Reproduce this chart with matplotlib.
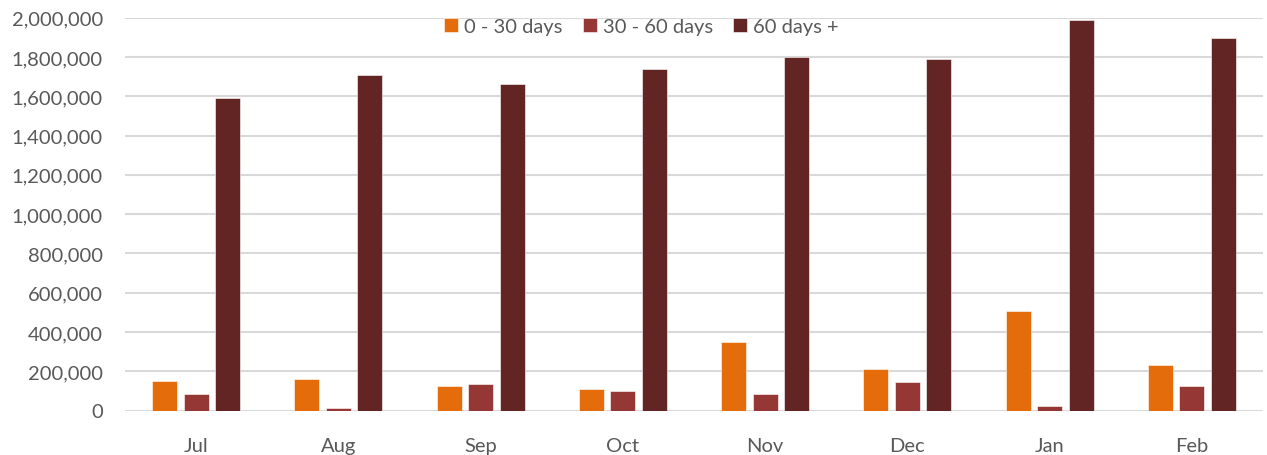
import numpy as np
import matplotlib
matplotlib.use("Agg")
import matplotlib.pyplot as plt
from matplotlib.ticker import FuncFormatter

# Data
months = ["Jul", "Aug", "Sep", "Oct", "Nov", "Dec", "Jan", "Feb"]
days_0_30 = [151000, 161000, 126000, 107000, 351000, 209000, 507000, 233000]
days_30_60 = [86000, 15000, 137000, 100000, 86000, 143000, 25000, 127000]
days_60_plus = [1590000, 1710000, 1660000, 1739000, 1800000, 1789000, 1987000, 1899000]

series = [
    ("0 - 30 days", days_0_30, "#E46C0A"),
    ("30 - 60 days", days_30_60, "#953735"),
    ("60 days +", days_60_plus, "#632523"),
]

plt.rcParams["font.family"] = ["Lato", "DejaVu Sans"]
text_color = "#595959"

fig = plt.figure(figsize=(12.67, 4.56), dpi=100)
ax = fig.add_axes([125 / 1267, 44.5 / 456, 1138 / 1267, 392.8 / 456])

x = np.arange(len(months))
width = 0.176
step = 0.221
for i, (label, vals, color) in enumerate(series):
    ax.bar(x + (i - 1) * step, vals, width, color=color, label=label,
           edgecolor="white", linewidth=0.4, zorder=3)

ax.set_xlim(-0.5, len(months) - 0.5)
ax.set_ylim(0, 2000000)
ax.set_yticks(np.arange(0, 2000001, 200000))
ax.yaxis.set_major_formatter(FuncFormatter(lambda v, p: f"{int(v):,}"))
ax.set_xticks(x)
ax.set_xticklabels(months)

ax.grid(axis="y", color="#d9d9d9", linewidth=1.5, zorder=0)
for s in ax.spines.values():
    s.set_visible(False)
ax.tick_params(axis="both", length=0, labelsize=14.5, colors=text_color)
ax.tick_params(axis="x", pad=19)
ax.tick_params(axis="y", pad=16)

# legend sits a bit left of the plot centre, like the original
leg = ax.legend(loc="upper center", bbox_to_anchor=(0.454, 1.045), ncol=3,
                frameon=False, fontsize=14.5, handlelength=0.7, handleheight=0.7,
                handletextpad=0.3, columnspacing=1.0)
for t in leg.get_texts():
    t.set_color(text_color)

fig.savefig("out.png", dpi=100)
